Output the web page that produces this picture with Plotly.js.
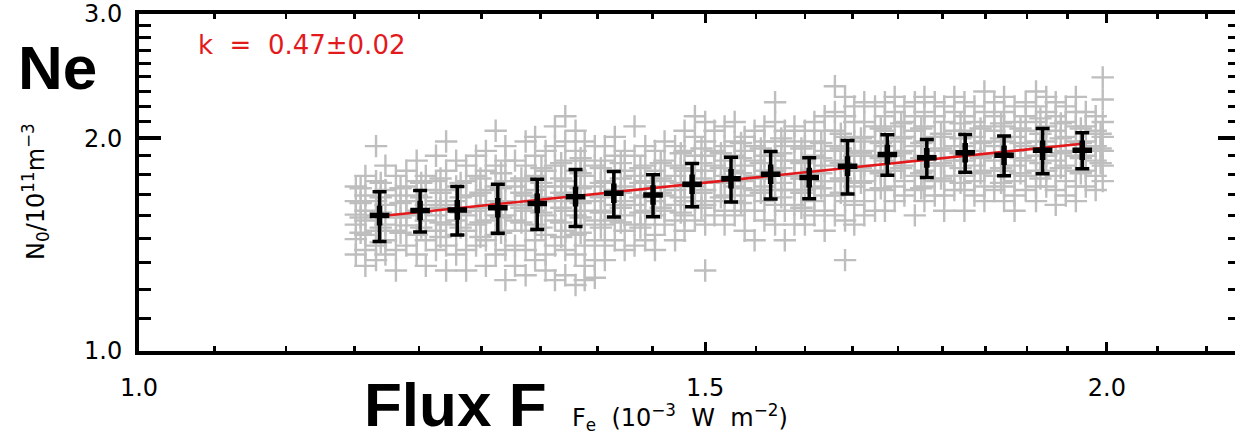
<!DOCTYPE html>
<html>
<head>
<meta charset="utf-8">
<script src="https://cdn.plot.ly/plotly-3.0.1.min.js"></script>
<style>
html,body{margin:0;padding:0;background:#fff;overflow:hidden;}
#chart{width:1243px;height:438px;}
</style>
</head>
<body>
<div id="chart"></div>
<script>
// ---- axis ticks ----
const xMajor = [1.0, 1.5, 2.0];
const xMajorText = ['1.0', '1.5', '2.0'];
const xMinor = [1.0556, 1.1111, 1.1667, 1.2222, 1.2778, 1.3333, 1.3889, 1.4444,
                1.5556, 1.6111, 1.6667, 1.7222, 1.7778, 1.8333, 1.8889, 1.9444,
                2.074, 2.148];
const yMajor = [1.0, 2.0, 3.0];
const yMajorText = ['1.0', '2.0', '3.0'];
const yMinor = [1.111, 1.222, 1.333, 1.444, 1.556, 1.667, 1.778, 1.889,
                2.111, 2.222, 2.333, 2.444, 2.556, 2.667, 2.778, 2.889];

// ---- gray scatter cloud, first set of columns (flux F, N values in column) ----
const cloudColF = [1.168,1.176,1.185,1.193,1.202,1.211,1.220,1.228,1.237,1.246,1.255,1.264,1.273,1.282,1.291,1.300,1.309,1.319,1.328,1.338,1.347,1.357,1.367,1.376,1.386,1.396,1.406,1.416,1.426,1.437,1.447,1.457,1.468,1.478,1.489,1.500,1.510,1.521,1.532,1.543,1.554,1.565,1.577,1.588,1.599,1.611,1.622,1.634,1.646,1.658,1.669,1.681,1.694,1.706,1.718,1.730,1.743,1.755,1.768,1.780,1.793,1.806,1.819,1.832,1.845,1.858,1.872,1.887,1.901,1.915,1.928,1.942,1.956,1.970,1.984,1.994];
const cloudColN = [
 [1.71,1.63,1.56,1.51,1.44,1.37],
 [1.77,1.66,1.58,1.53,1.46,1.39,1.32],
 [1.95,1.74,1.63,1.556,1.48,1.41,1.345],
 [1.83,1.69,1.61,1.51,1.435,1.37],
 [1.77,1.66,1.56,1.48,1.39,1.30],
 [1.80,1.71,1.63,1.556,1.506,1.41],
 [1.86,1.74,1.66,1.58,1.46,1.37],
 [1.77,1.69,1.61,1.53,1.435,1.32],
 [1.89,1.74,1.63,1.556,1.48,1.39],
 [1.98,1.80,1.69,1.61,1.51,1.41,1.30],
 [1.86,1.71,1.63,1.53,1.46,1.37],
 [1.83,1.74,1.66,1.556,1.48,1.39,1.30],
 [1.89,1.77,1.66,1.58,1.51,1.41],
 [1.92,1.80,1.69,1.61,1.53,1.435,1.32],
 [2.05,1.83,1.71,1.63,1.556,1.46,1.37],
 [1.95,1.86,1.74,1.63,1.556,1.48,1.39,1.26],
 [1.86,1.71,1.61,1.53,1.41,1.32],
 [1.98,1.83,1.74,1.66,1.58,1.48,1.39,1.28],
 [2.01,1.89,1.77,1.69,1.58,1.51,1.435,1.345],
 [1.92,1.80,1.71,1.63,1.556,1.46,1.37,1.30],
 [2.08,1.95,1.83,1.71,1.63,1.53,1.41,1.26],
 [2.15,1.98,1.86,1.74,1.66,1.58,1.48,1.39,1.28],
 [2.05,1.92,1.80,1.71,1.63,1.556,1.46,1.37,1.24],
 [1.98,1.86,1.77,1.66,1.58,1.51,1.41,1.32,1.26],
 [1.95,1.83,1.71,1.63,1.53,1.435,1.345,1.27],
 [1.95,1.86,1.74,1.66,1.58,1.51,1.41,1.345],
 [2.01,1.89,1.80,1.69,1.61,1.53,1.435],
 [1.92,1.80,1.71,1.63,1.556,1.48,1.39],
 [2.08,1.89,1.77,1.69,1.61,1.51,1.41],
 [1.95,1.83,1.74,1.66,1.58,1.51,1.435],
 [1.92,1.80,1.71,1.63,1.556,1.46,1.39],
 [1.98,1.86,1.74,1.66,1.58,1.51],
 [1.95,1.83,1.77,1.69,1.61,1.53,1.435],
 [2.05,1.92,1.80,1.71,1.63,1.556,1.48],
 [2.15,2.01,1.89,1.80,1.71,1.63,1.53],
 [2.11,1.98,1.89,1.80,1.69,1.61,1.51,1.30],
 [2.05,1.92,1.83,1.74,1.63,1.556],
 [2.08,1.95,1.86,1.77,1.66,1.58,1.51],
 [2.11,1.98,1.89,1.80,1.71,1.63,1.556],
 [2.01,1.92,1.83,1.74,1.66,1.58,1.48],
 [2.05,1.95,1.86,1.77,1.69,1.58,1.435],
 [2.08,1.98,1.89,1.80,1.71,1.63,1.53],
 [2.25,2.11,1.98,1.89,1.80,1.69,1.61,1.51],
 [2.05,1.95,1.86,1.77,1.69,1.58,1.435],
 [2.08,1.98,1.86,1.77,1.69,1.61,1.51],
 [2.05,1.95,1.86,1.77,1.69,1.58,1.51],
 [2.11,1.98,1.89,1.80,1.71,1.63,1.556],
 [2.15,2.05,1.92,1.83,1.74,1.66,1.58,1.48],
 [2.37,2.18,2.05,1.95,1.86,1.74,1.66,1.556],
 [2.29,2.15,2.01,1.92,1.83,1.74,1.63,1.53,1.345],
 [2.22,2.11,1.98,1.89,1.80,1.71,1.61,1.51],
 [2.25,2.11,2.01,1.92,1.83,1.74,1.63,1.556],
 [2.22,2.08,1.98,1.89,1.80,1.69,1.58],
 [2.25,2.15,2.05,1.95,1.86,1.77,1.69,1.58],
 [2.29,2.18,2.08,1.98,1.89,1.80,1.71,1.63],
 [2.22,2.11,2.01,1.92,1.83,1.74,1.66],
 [2.25,2.15,2.05,1.95,1.86,1.77,1.69,1.556],
 [2.29,2.18,2.08,1.98,1.89,1.80,1.71,1.63],
 [2.25,2.15,2.01,1.92,1.83,1.74,1.66],
 [2.22,2.11,2.01,1.92,1.83,1.74,1.66,1.58],
 [2.29,2.18,2.05,1.95,1.86,1.77,1.69],
 [2.25,2.15,2.05,1.95,1.86,1.77,1.69,1.58],
 [2.22,2.11,2.01,1.92,1.83,1.74,1.66],
 [2.33,2.18,2.08,1.98,1.89,1.80,1.71,1.63],
 [2.25,2.15,2.05,1.95,1.86,1.77,1.69],
 [2.29,2.18,2.08,1.98,1.89,1.80,1.71,1.63],
 [2.22,2.11,2.01,1.92,1.83,1.74,1.66,1.58],
 [2.25,2.15,2.05,1.95,1.86,1.77,1.69],
 [2.33,2.22,2.11,1.98,1.89,1.80,1.71,1.63],
 [2.29,2.18,2.08,1.98,1.89,1.80,1.71],
 [2.25,2.15,2.05,1.95,1.86,1.77,1.69,1.61],
 [2.22,2.11,2.01,1.92,1.83,1.74,1.66],
 [2.29,2.18,2.08,1.98,1.89,1.80,1.71,1.63],
 [2.18,2.08,1.98,1.89,1.80,1.71],
 [2.15,2.05,1.95,1.86,1.77,1.69],
 [2.44,2.27,2.11,2.01,1.92,1.83,1.74]
];

// ---- gray scatter cloud, second set of columns (dense core) ----
const coreColF = [1.172,1.189,1.206,1.224,1.241,1.259,1.277,1.296,1.315,1.334,1.353,1.372,1.392,1.412,1.432,1.453,1.474,1.496,1.517,1.539,1.561,1.584,1.607,1.630,1.653,1.677,1.701,1.726,1.751,1.776,1.801,1.827,1.854,1.880,1.907,1.935,1.963,1.991];
const coreColN = [
 [1.70,1.62,1.545,1.47],
 [1.73,1.65,1.57,1.495,1.425],
 [1.70,1.62,1.545,1.47],
 [1.73,1.65,1.57,1.495],
 [1.755,1.675,1.595,1.52,1.45],
 [1.73,1.65,1.57,1.495],
 [1.755,1.675,1.595,1.52,1.45],
 [1.785,1.70,1.62,1.545,1.47],
 [1.755,1.675,1.595,1.52],
 [1.815,1.73,1.65,1.57,1.495],
 [1.845,1.755,1.675,1.595,1.52,1.45],
 [1.875,1.785,1.70,1.62,1.545,1.47],
 [1.815,1.73,1.65,1.57,1.495],
 [1.845,1.755,1.675,1.595,1.52],
 [1.815,1.73,1.65,1.57,1.495],
 [1.845,1.755,1.675,1.595],
 [1.905,1.815,1.73,1.65,1.57],
 [1.935,1.845,1.755,1.675,1.595],
 [1.905,1.815,1.73,1.65],
 [1.97,1.875,1.785,1.70,1.62],
 [1.935,1.845,1.755,1.675],
 [2.0,1.905,1.815,1.73,1.65],
 [1.935,1.845,1.755,1.675,1.595],
 [1.97,1.875,1.785,1.70],
 [2.03,1.935,1.845,1.755,1.675],
 [2.0,1.905,1.815,1.73],
 [2.065,1.97,1.875,1.785,1.70],
 [2.10,2.0,1.905,1.815],
 [2.065,1.97,1.875,1.785,1.70],
 [2.03,1.935,1.845,1.755],
 [2.10,2.0,1.905,1.815,1.73],
 [2.065,1.97,1.875,1.785],
 [2.10,2.0,1.905,1.815,1.73],
 [2.065,1.97,1.875,1.785],
 [2.135,2.03,1.935,1.845,1.755],
 [2.10,2.0,1.905,1.815],
 [2.065,1.97,1.875,1.785],
 [2.03,1.935,1.845]
];

// ---- binned means with error bars ----
const binF = [1.188,1.223,1.256,1.293,1.330,1.367,1.405,1.445,1.486,1.528,1.572,1.616,1.661,1.709,1.758,1.807,1.858,1.910,1.965];
const binN = [1.555,1.581,1.584,1.595,1.618,1.654,1.672,1.663,1.722,1.753,1.779,1.760,1.827,1.898,1.877,1.908,1.893,1.924,1.924];
const binErr = [0.126,0.107,0.125,0.127,0.132,0.153,0.124,0.114,0.121,0.127,0.137,0.117,0.159,0.125,0.116,0.117,0.122,0.142,0.113];

// ---- fitted power law line (k = 0.47) ----
const fitF = [1.188, 1.965];
const fitN = [1.552, 1.965];
const fitLabel = 'k\u00a0\u00a0=\u00a0\u00a00.47\u00b10.02';

// build cloud x/y
const cloudX = [], cloudY = [];
cloudColF.forEach((f, i) => {
  cloudColN[i].forEach(n => { cloudX.push(f); cloudY.push(n); });
});
coreColF.forEach((f, i) => {
  coreColN[i].forEach(n => { cloudX.push(f); cloudY.push(n); });
});

const GRAY = '#bebebe';
const RED = '#e3191c';

const traces = [
  {
    type: 'scatter', mode: 'markers', x: cloudX, y: cloudY,
    marker: {symbol: 'cross-thin', size: 16, color: GRAY, line: {color: GRAY, width: 2.4}},
    hoverinfo: 'skip', cliponaxis: true
  },
  {
    type: 'scatter', mode: 'lines', x: fitF, y: fitN,
    line: {color: RED, width: 2.6}, hoverinfo: 'skip'
  },
  {
    type: 'scatter', mode: 'markers', x: binF, y: binN,
    marker: {symbol: 'cross-thin', size: 14, color: 'black', line: {color: 'black', width: 5.5}},
    error_y: {type: 'data', array: binErr, symmetric: true, color: 'black', thickness: 3.5, width: 7},
    hoverinfo: 'skip'
  }
];

const axisCommon = {
  type: 'log', tickmode: 'array', ticks: 'inside', tickcolor: 'black',
  mirror: 'allticks', showline: true, linewidth: 4, linecolor: 'black',
  showgrid: false, zeroline: false,
  tickfont: {family: 'DejaVu Sans', size: 24, color: 'black'}
};

const layout = {
  width: 1243, height: 438,
  margin: {l: 139, r: 3, t: 14, b: 87},
  paper_bgcolor: 'white', plot_bgcolor: 'white', showlegend: false,
  font: {family: 'DejaVu Sans', color: 'black'},
  xaxis: Object.assign({}, axisCommon, {
    range: [0, Math.log10(2.2)], tickvals: xMajor, ticktext: xMajorText,
    ticklen: 9, tickwidth: 3, ticklabelstandoff: 12,
    minor: {tickmode: 'array', tickvals: xMinor, ticks: 'inside', ticklen: 5, tickwidth: 2.5, tickcolor: 'black', showgrid: false}
  }),
  yaxis: Object.assign({}, axisCommon, {
    range: [0, Math.log10(3)], tickvals: yMajor, ticktext: yMajorText,
    ticklen: 22, tickwidth: 4, ticklabelstandoff: 8,
    minor: {tickmode: 'array', tickvals: yMinor, ticks: 'inside', ticklen: 12, tickwidth: 3, tickcolor: 'black', showgrid: false}
  }),
  annotations: [
    {xref: 'paper', yref: 'paper', x: 0.0518, y: 0.908, xanchor: 'left', yanchor: 'middle',
     text: fitLabel, showarrow: false, font: {family: 'DejaVu Sans', size: 26, color: RED}},
    {xref: 'paper', yref: 'paper', x: -0.0736, y: 0.8427, xanchor: 'center', yanchor: 'middle',
     text: '<b>Ne</b>', showarrow: false, font: {family: 'Liberation Sans', size: 62, color: 'black'}},
    {xref: 'paper', yref: 'paper', x: 0.2879, y: -0.1602, xanchor: 'center', yanchor: 'middle',
     text: '<b>Flux F</b>', showarrow: false, font: {family: 'Liberation Sans', size: 62, color: 'black'}},
    {xref: 'paper', yref: 'paper', x: -0.0935, y: 0.472, xanchor: 'center', yanchor: 'middle', textangle: -90,
     text: 'N<sub>0</sub>/10<sup>11</sup>m<sup>\u22123</sup>', showarrow: false,
     font: {family: 'DejaVu Sans', size: 24, color: 'black'}},
    {xref: 'paper', yref: 'paper', x: 0.4914, y: -0.1988, xanchor: 'center', yanchor: 'middle',
     text: 'F<sub>e</sub>\u00a0\u00a0(10<sup>\u22123</sup>\u00a0\u00a0W\u00a0\u00a0m<sup>\u22122</sup>)', showarrow: false,
     font: {family: 'DejaVu Sans', size: 24, color: 'black'}}
  ]
};

Plotly.newPlot('chart', traces, layout, {displayModeBar: false, staticPlot: true});
</script>
</body>
</html>
